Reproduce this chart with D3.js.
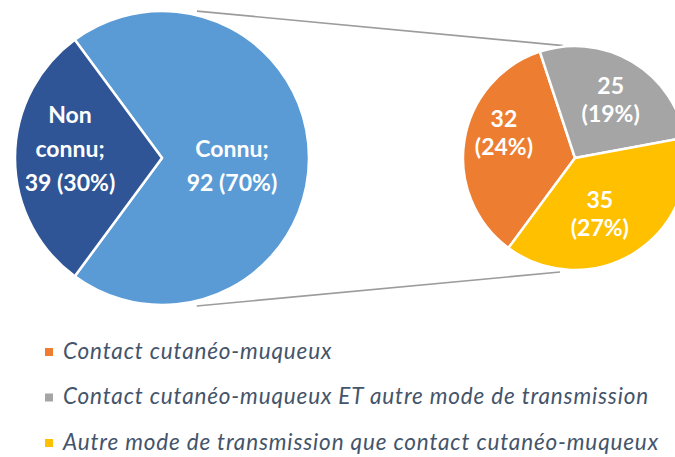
<!DOCTYPE html>
<html>
<head>
<meta charset="utf-8">
<script src="https://cdn.jsdelivr.net/npm/d3@7"></script>
<style>
  body { margin: 0; background: #fff; }
  svg { display: block; }
</style>
</head>
<body>
<div id="chart"></div>
<script>
// main pie
var mainCats = ['Connu', 'Non connu'];
var mainValues = [92, 39];
var mainPcts = ['70%', '30%'];
var mainColors = ['#5b9bd5', '#2f5597'];

// secondary pie (breakdown of "Connu")
var subCats = ['Contact cutanéo-muqueux',
               'Contact cutanéo-muqueux ET autre mode de transmission',
               'Autre mode de transmission que contact cutanéo-muqueux'];
var subValues = [32, 25, 35];
var subPcts = ['24%', '19%', '27%'];
var subColors = ['#ed7d31', '#a5a5a5', '#ffc000'];

var width = 675, height = 457;
var deg = Math.PI / 180;

var svg = d3.select('#chart').append('svg')
    .attr('width', width)
    .attr('height', height);

svg.append('rect').attr('width', width).attr('height', height).attr('fill', '#fff');

var big = {cx: 162, cy: 158, r: 147};
var small = {cx: 575, cy: 158, r: 112};

// connector lines
function onCircle(c, ang, extra) {
    return [c.cx + (c.r + extra) * Math.sin(ang * deg), c.cy - (c.r + extra) * Math.cos(ang * deg)];
}
var connectors = [[onCircle(big, 13.4, 4), onCircle(small, -6, 1)],
                  [onCircle(big, 166.8, 5), onCircle(small, 187.5, 3)]];
svg.selectAll('line.conn')
    .data(connectors)
    .enter()
    .append('line')
    .attr('class', 'conn')
    .attr('x1', function (d) { return d[0][0]; })
    .attr('y1', function (d) { return d[0][1]; })
    .attr('x2', function (d) { return d[1][0]; })
    .attr('y2', function (d) { return d[1][1]; })
    .attr('stroke', '#9c9c9c')
    .attr('stroke-width', 1.6);

// big pie: Non connu centred on the left
var nonShare = mainValues[1] / d3.sum(mainValues) * 360;
var mainPie = d3.pie().sort(null)
    .startAngle((270 + nonShare / 2 - 360) * deg)
    .endAngle((270 + nonShare / 2) * deg);
var mainArcs = mainPie(mainValues);

var bigArc = d3.arc().innerRadius(0).outerRadius(big.r);
var gBig = svg.append('g').attr('transform', 'translate(' + big.cx + ',' + big.cy + ')');
gBig.selectAll('path')
    .data(mainArcs)
    .enter()
    .append('path')
    .attr('d', bigArc)
    .attr('fill', function (d, i) { return mainColors[i]; })
    .attr('stroke', '#fff')
    .attr('stroke-width', 2.5)
    .attr('stroke-linejoin', 'round');

// small pie
var subStart = -143.5;
var subPie = d3.pie().sort(null)
    .startAngle(subStart * deg)
    .endAngle((subStart + 360) * deg);
var subArcs = subPie(subValues);

var smallArc = d3.arc().innerRadius(0).outerRadius(small.r);
var gSmall = svg.append('g').attr('transform', 'translate(' + small.cx + ',' + small.cy + ')');
gSmall.selectAll('path')
    .data(subArcs)
    .enter()
    .append('path')
    .attr('d', smallArc)
    .attr('fill', function (d, i) { return subColors[i]; })
    .attr('stroke', '#fff')
    .attr('stroke-width', 2.5)
    .attr('stroke-linejoin', 'round');

// labels: centroid at a radius, then a small nudge
function addLabels(g, arcs, lines, layout, spacing) {
    arcs.forEach(function (a, i) {
        var L = layout[i];
        var c = d3.arc().innerRadius(L.r).outerRadius(L.r).centroid(a);
        var x = c[0] + L.dx, y = c[1] + L.dy;
        var ls = lines[i];
        var t = g.append('text')
            .attr('text-anchor', 'middle')
            .attr('fill', '#fff')
            .style('font-family', 'Lato, "Open Sans", sans-serif')
            .style('font-weight', 'bold')
            .style('font-size', '23px');
        ls.forEach(function (s, j) {
            t.append('tspan')
                .attr('x', x)
                .attr('y', y + (j - (ls.length - 1) / 2) * spacing + 8)
                .text(s);
        });
    });
}

addLabels(gBig, mainArcs,
    [[mainCats[0] + ';', mainValues[0] + ' (' + mainPcts[0] + ')'],
     ['Non', 'connu;', mainValues[1] + ' (' + mainPcts[1] + ')']],
    [{r: 70, dx: 0, dy: 8}, {r: 92, dx: 0, dy: -9}], 34);

addLabels(gSmall, subArcs,
    subValues.map(function (v, i) { return [String(v), '(' + subPcts[i] + ')']; }),
    [{r: 72, dx: 0, dy: -14}, {r: 68, dx: 1, dy: 0}, {r: 62, dx: -8, dy: 3}], 28);

// legend
var legend = svg.append('g').attr('transform', 'translate(45,348)');
var items = legend.selectAll('g')
    .data(subCats)
    .enter()
    .append('g')
    .attr('transform', function (d, i) { return 'translate(0,' + (i * 45.5) + ')'; });
items.append('rect')
    .attr('width', 8).attr('height', 8)
    .attr('fill', function (d, i) { return subColors[i]; });
items.append('text')
    .attr('x', 18).attr('y', 10.5)
    .attr('fill', '#44546a')
    .style('font-family', 'Lato, sans-serif')
    .style('font-style', 'italic')
    .style('font-size', '22.5px')
    .style('letter-spacing', '0.85px')
    .text(function (d) { return d; });
</script>
</body>
</html>
